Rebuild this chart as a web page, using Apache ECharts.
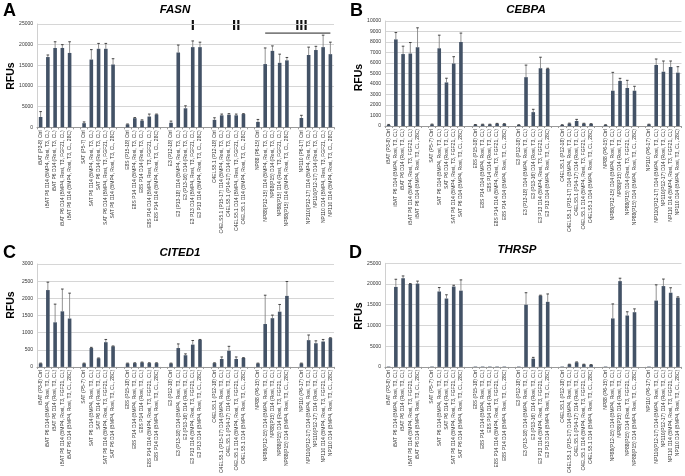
<!DOCTYPE html>
<html><head><meta charset="utf-8">
<script src="https://cdn.jsdelivr.net/npm/echarts@6/dist/echarts.min.js"></script>
<style>html,body{margin:0;padding:0;background:#fff}#c{width:685px;height:476px}</style>
</head><body><div id="c"></div>
<script>
// ---- categories (gap slots are blank) ----
const categories = [
  'iBAT (P3-8) Ctrl','iBAT P6 D14 (BMP4, Rosi, T3, CL)','iBAT P6 D14 (Rosi, T3, CL)','iBAT P6 D14 (BMP4, Rosi, T3, FGF21, CL)','iBAT P6 D14 (BMP4, Rosi, T3, CL, 28C)',
  '',
  'SAT (P5-7) Ctrl','SAT P6 D14 (BMP4, Rosi, T3, CL)','SAT P6 D14 (Rosi, T3, CL)','SAT P6 D14 (BMP4, Rosi, T3, FGF21, CL)','SAT P6 D14 (BMP4, Rosi, T3, CL, 28C)',
  '',
  'E8S (P15-18) Ctrl','E8S P14 D14 (BMP4, Rosi, T3, CL)','E8S P14 D14 (Rosi, T3, CL)','E8S P14 D14 (BMP4, Rosi, T3, FGF21, CL)','E8S P14 D14 (BMP4, Rosi, T3, CL, 28C)',
  '',
  'E3 (P12-18) Ctrl','E3 (P13-18) D14 (BMP4, Rosi, T3, CL)','E3 (P13-16) D14 (Rosi, T3, CL)','E3 P13 D14 (BMP4, Rosi, T3, FGF21, CL)','E3 P13 D14 (BMP4, Rosi, T3, CL, 28C)',
  '',
  'C4ELS5.1 (P12-18) Ctrl','C4ELS5.1 (P15-17) D14 (BMP4, Rosi, T3, CL)','C4ELS5.1 (P14-17) D14 (Rosi, T3, CL)','C4ELS5.1 D14 (BMP4, Rosi, T3, FGF21, CL)','C4ELS5.1 D14 (BMP4, Rosi, T3, CL, 28C)',
  '',
  'NP88 (P6-15) Ctrl','NP88(P12-15) D14 (BMP4, Rosi, T3, CL)','NP88(P15) D14 (Rosi, T3, CL)','NP88(P15) D14 (Rosi, T3, FGF21, CL)','NP88(P15) D14 (BMP4, Rosi, T3, CL, 28C)',
  '',
  'NP110 (P6-17) Ctrl','NP110(P12-17) D14 (BMP4, Rosi, T3, CL)','NP110(P12-17) D14 (Rosi, T3, CL)','NP110 D14 (BMP4, Rosi, T3, FGF21, CL)','NP110 D14 (BMP4, Rosi, T3, CL, 28C)'
];

// ---- FASN ----
const fasnValues = [2500,17000,19200,19200,18000, null, 1000,16400,19000,19000,15200, null, 700,2200,1600,2600,3100, null,
  1100,18100,4600,19400,19400, null, 1800,2900,3050,2900,3200, null, 1300,15300,18500,15600,16200, null, 2250,17500,18700,19400,17700];
const fasnErrors = [1300,500,1500,800,2700, null, 300,2400,1300,1300,1400, null, 100,150,200,600,100, null,
  400,1800,600,1500,1200, null, 500,300,250,300,100, null, 600,3900,1200,2100,700, null, 650,1900,900,2900,2900];

// ---- CEBPA ----
const cebpaValues = [100,8250,6850,6900,7500, null, 150,7400,4150,5950,8000, null, 120,150,150,220,200, null,
  100,4650,1320,5500,5450, null, 100,230,480,230,200, null, 100,3360,4290,3620,3360, null, 150,5810,5170,5620,5080];
const cebpaErrors = [50,650,750,1050,1850, null, 30,1250,400,650,850, null, 20,20,20,30,20, null,
  20,1150,270,1050,50, null, 20,40,150,30,20, null, 20,1750,250,730,420, null, 20,570,1020,570,570];

// ---- CITED1 ----
const cited1Values = [100,2240,1300,1620,1410, null, 100,550,250,720,600, null, 100,110,130,110,110, null,
  100,550,340,650,790, null, 110,230,470,230,260, null, 100,1250,1420,1610,2070, null, 100,780,690,740,840];
const cited1Errors = [10,230,530,650,740, null, 10,20,10,80,10, null, 10,10,10,10,10, null,
  10,120,40,120,10, null, 10,60,130,60,10, null, 10,840,90,210,420, null, 10,150,70,60,10];

// ---- THRSP ----
const thrspValues = [100,19300,21400,20000,20100, null, 100,18200,16500,19400,18400, null, 100,100,100,100,100, null,
  100,15000,2000,17200,15700, null, 100,600,1100,600,500, null, 100,11700,20700,12400,13200, null, 100,16000,19500,17900,16700];
const thrspErrors = [0,1850,550,100,600, null, 0,950,900,300,2600, null, 0,0,0,0,0, null,
  0,2900,300,100,1900, null, 0,50,100,50,50, null, 0,3500,700,900,800, null, 0,3800,1700,1200,200];

// ---- axis scales ----
const yMax = [25000, 10000, 3000, 25000];
const yStep = [5000, 1000, 500, 5000];
const geneNames = ['FASN', 'CEBPA', 'CITED1', 'THRSP'];
const panelLetters = ['A', 'B', 'C', 'D'];
const regionLabels = ['I', 'II', 'III'];

const FONT = '"Liberation Sans", Arial, sans-serif';
const BAR = '#435266';

const grids = [
  {left: 37, top: 24, width: 297, height: 103.3},
  {left: 385, top: 21, width: 296.5, height: 105},
  {left: 37, top: 264, width: 297, height: 103.3},
  {left: 385, top: 263.3, width: 296.5, height: 104}
];
const panels = [
  [fasnValues, fasnErrors], [cebpaValues, cebpaErrors],
  [cited1Values, cited1Errors], [thrspValues, thrspErrors]
];

function errData(vals, errs) {
  const out = [];
  vals.forEach((v, i) => { if (v != null) out.push([i, v, errs[i]]); });
  return out;
}

const xAxis = grids.map((g, i) => ({
  type: 'category', gridIndex: i, data: categories,
  axisLine: {lineStyle: {color: '#9a9a9a', width: 1}},
  axisTick: {show: true, alignWithLabel: false, length: 2, lineStyle: {color: '#9a9a9a'}},
  axisLabel: {interval: 0, rotate: 90, fontSize: 5, color: '#333', margin: 3, fontFamily: FONT}
}));
const yAxis = grids.map((g, i) => ({
  type: 'value', gridIndex: i, min: 0, max: yMax[i], interval: yStep[i],
  axisLine: {show: true, lineStyle: {color: '#d0d0d0'}},
  axisTick: {show: false},
  splitLine: {lineStyle: {color: '#d6d6d6', width: 1}},
  axisLabel: {fontSize: 5, color: '#333', margin: 4, fontFamily: FONT, formatter: v => String(v)}
}));

const series = [];
panels.forEach(([vals, errs], i) => {
  series.push({
    type: 'bar', xAxisIndex: i, yAxisIndex: i, data: vals, barWidth: 3.6,
    itemStyle: {color: BAR}, silent: true, animation: false
  });
  series.push({
    type: 'custom', xAxisIndex: i, yAxisIndex: i, data: errData(vals, errs), z: 5, animation: false, silent: true,
    renderItem: function (params, api) {
      const x = api.value(0), v = api.value(1), e = api.value(2);
      if (!e) return null;
      const p0 = api.coord([x, v]);
      const p1 = api.coord([x, v + e]);
      return {type: 'group', children: [
        {type: 'line', shape: {x1: p0[0], y1: p0[1], x2: p1[0], y2: p1[1]}, style: {stroke: '#777', lineWidth: 0.8}},
        {type: 'line', shape: {x1: p1[0] - 1.3, y1: p1[1], x2: p1[0] + 1.3, y2: p1[1]}, style: {stroke: '#333', lineWidth: 0.9}}
      ]};
    }
  });
});

const graphic = [];
const letterPos = [[3, 2], [350, 2], [3, 244], [349, 244]];
const titlePos = [[175, 10], [526, 10], [180, 252.5], [517, 250]];
const rfuPos = [[11, 76], [359, 77.5], [11, 305], [359, 316]];
for (let i = 0; i < 4; i++) {
  graphic.push({type: 'text', left: letterPos[i][0], top: letterPos[i][1],
    style: {text: panelLetters[i], font: 'bold 18px ' + FONT, fill: '#000'}});
  graphic.push({type: 'text', x: titlePos[i][0], y: titlePos[i][1],
    style: {text: geneNames[i], font: 'italic bold 11.5px ' + FONT, fill: '#000', align: 'center', verticalAlign: 'middle'}});
  graphic.push({type: 'text', x: rfuPos[i][0], y: rfuPos[i][1], rotation: Math.PI / 2,
    style: {text: 'RFUs', font: 'bold 10.5px ' + FONT, fill: '#000', align: 'center', verticalAlign: 'middle'}});
}

const chart = echarts.init(document.getElementById('c'), null, {renderer: 'canvas'});
chart.setOption({
  animation: false,
  backgroundColor: '#fff',
  grid: grids,
  xAxis: xAxis, yAxis: yAxis, series: series, graphic: graphic
});

// region annotations on panel A, positioned through the axis scales
const toPx = (cat, val) => chart.convertToPixel({gridIndex: 0}, [cat, val]);
const pI = toPx(20.5, 24600), pII = toPx(26.5, 24600), pIII = toPx(35.5, 24600);
const l0 = toPx(30.8, 22800), l1 = toPx(40.3, 22800);
const ann = [pI, pII, pIII].map((p, k) => ({type: 'text', x: p[0], y: p[1],
  style: {text: regionLabels[k], font: 'bold 15px ' + FONT, fill: '#111', align: 'center', verticalAlign: 'middle'}}));
ann.push({type: 'line', shape: {x1: l0[0], y1: l0[1], x2: l1[0], y2: l1[1]}, style: {stroke: '#222', lineWidth: 1}});
chart.setOption({graphic: graphic.concat(ann)});
</script>
</body></html>
